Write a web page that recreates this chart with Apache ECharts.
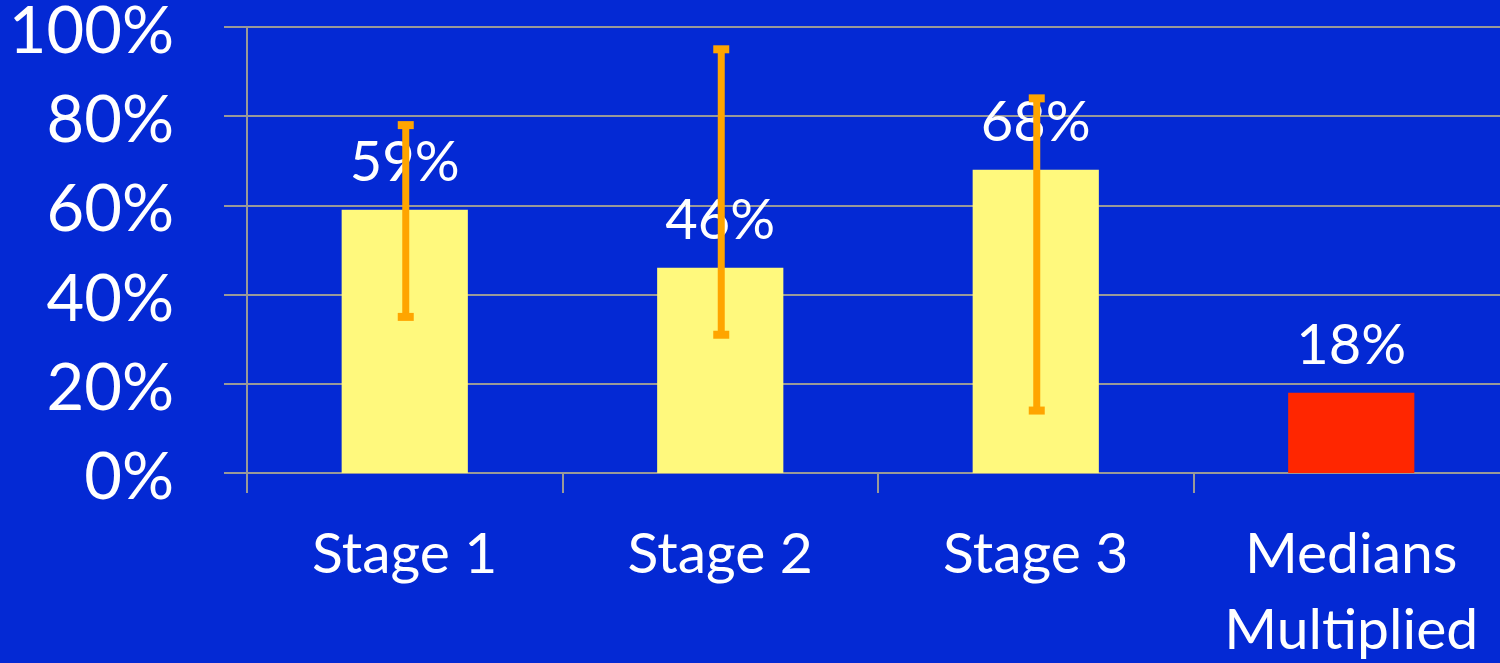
<!DOCTYPE html>
<html>
<head>
<meta charset="utf-8">
<script src="https://cdn.jsdelivr.net/npm/echarts@6/dist/echarts.min.js"></script>
<style>
html,body{margin:0;padding:0;background:#0429D4;}
#chart{width:1500px;height:663px;}
</style>
</head>
<body>
<div id="chart"></div>
<script>
const categories = ['Stage 1', 'Stage 2', 'Stage 3', 'Medians\nMultiplied'];
const values = [59, 46, 68, 18];
const errLow = [35, 31, 14, null];
const errHigh = [78, 95, 84, null];
const barColors = ['#FFF97D', '#FFF97D', '#FFF97D', '#FF2600'];
const yTicks = [0, 20, 40, 60, 80, 100];

const chart = echarts.init(document.getElementById('chart'));
const font = 'Lato, Carlito, "Open Sans", sans-serif';
const errData = categories.map((c, i) => [i, errLow[i], errHigh[i]]).filter(d => d[1] != null);

chart.setOption({
  backgroundColor: '#0429D4',
  animation: false,
  grid: { left: 247, top: 27, bottom: 190, right: -9, outerBoundsMode: 'none', containLabel: false },
  xAxis: {
    type: 'category',
    data: categories,
    axisLine: { show: true, lineStyle: { color: '#999', width: 2 } },
    axisTick: { show: true, length: 20, lineStyle: { color: '#999', width: 2 } },
    axisLabel: { color: '#fff', fontSize: 57, fontFamily: font, margin: 44, lineHeight: 76, interval: 0 }
  },
  yAxis: {
    type: 'value',
    min: yTicks[0], max: yTicks[yTicks.length - 1], interval: 20,
    axisLine: { show: true, lineStyle: { color: '#999', width: 2 } },
    axisTick: { show: true, length: 23, lineStyle: { color: '#999', width: 2 } },
    splitLine: { show: true, lineStyle: { color: '#999', width: 2 } },
    axisLabel: { color: '#fff', fontSize: 65, fontFamily: font, margin: 73, formatter: v => v + '%', verticalAlign: 'top', lineHeight: 10 }
  },
  series: [
    {
      type: 'bar',
      barWidth: '40%',
      data: values.map((v, i) => ({ value: v, itemStyle: { color: barColors[i] } })),
      label: { show: true, position: 'top', distance: 19, color: '#fff', fontSize: 56, fontFamily: font, formatter: p => p.value + '%' }
    },
    {
      type: 'custom',
      zlevel: 1,
      data: errData,
      renderItem: function (params, api) {
        const x = api.value(0);
        const lo = api.coord([x, api.value(1)]);
        const hi = api.coord([x, api.value(2)]);
        const cx = lo[0] + 1;
        const capW = 16, capH = 8, lw = 7;
        return {
          type: 'group',
          children: [
            { type: 'rect', shape: { x: cx - lw / 2, y: hi[1], width: lw, height: lo[1] - hi[1] }, style: { fill: '#FFA500' } },
            { type: 'rect', shape: { x: cx - capW / 2, y: hi[1] - capH / 2, width: capW, height: capH }, style: { fill: '#FFA500' } },
            { type: 'rect', shape: { x: cx - capW / 2, y: lo[1] - capH / 2, width: capW, height: capH }, style: { fill: '#FFA500' } }
          ]
        };
      }
    }
  ]
});
</script>
</body>
</html>
